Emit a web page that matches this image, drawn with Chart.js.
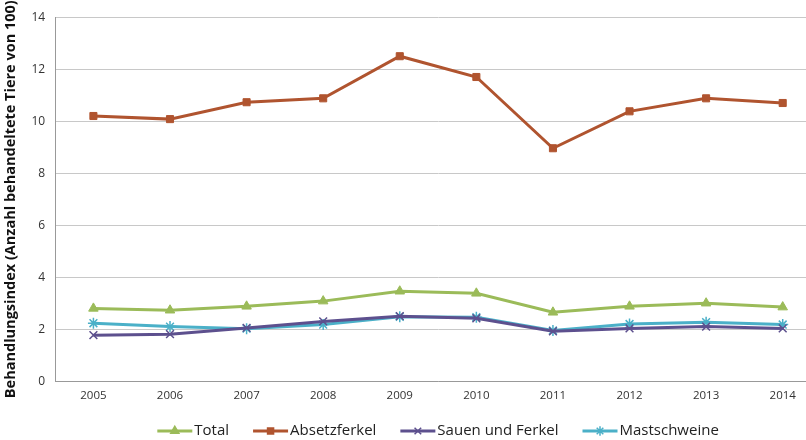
<!DOCTYPE html>
<html><head><meta charset="utf-8">
<script src="https://cdn.jsdelivr.net/npm/chart.js@4/dist/chart.umd.min.js"></script>
<style>html,body{margin:0;padding:0;overflow:hidden;background:#fff}#wrap{width:828px;height:440px}</style>
</head><body><div id="wrap"><canvas id="c" width="828" height="440"></canvas></div>
<script>
const years = ['2005','2006','2007','2008','2009','2010','2011','2012','2013','2014'];
const total = [2.80,2.73,2.88,3.08,3.46,3.38,2.65,2.88,3.00,2.85];
const absetzferkel = [10.20,10.08,10.73,10.88,12.50,11.70,8.96,10.38,10.88,10.70];
const sauenUndFerkel = [1.77,1.81,2.05,2.30,2.50,2.42,1.92,2.03,2.10,2.03];
const mastschweine = [2.23,2.10,2.02,2.18,2.48,2.46,1.95,2.20,2.27,2.18];
const yTicks = [0,2,4,6,8,10,12,14];

const FONT = "'Open Sans', 'Liberation Sans', sans-serif";
function mk(label, data, color, style, r){
  return {label, data, borderColor: color, backgroundColor: color, borderWidth: 3,
    pointStyle: style, pointRadius: r, pointHoverRadius: r, pointBorderWidth: (style==='crossRot'||style==='star')?1.5:1,
    tension: 0, fill: false};
}
const ds = [
  mk('Total', total, '#9bbb59', 'triangle', 5.5),
  mk('Absetzferkel', absetzferkel, '#b0542f', 'rect', 5),
  mk('Sauen und Ferkel', sauenUndFerkel, '#5d508e', 'crossRot', 5.5),
  mk('Mastschweine', mastschweine, '#4bb0c8', 'star', 5.5)
];

const legendPlugin = {
  id: 'customLegend',
  afterDraw(chart){
    const ctx = chart.ctx, ca = chart.chartArea;
    const iconW = 35, gap = 24, y = 431;
    ctx.save();
    ctx.font = "15px " + FONT;
    ctx.textBaseline = 'middle';
    const items = chart.data.datasets.map(d => ({d, tw: ctx.measureText(d.label).width}));
    const totalW = items.reduce((s,it)=>s+iconW+2+it.tw,0) + gap*(items.length-1);
    let x = (ca.left + ca.right)/2 - totalW/2;
    items.forEach(({d, tw}) => {
      ctx.strokeStyle = d.borderColor; ctx.lineWidth = 3;
      ctx.beginPath(); ctx.moveTo(x, y); ctx.lineTo(x+iconW, y); ctx.stroke();
      ctx.fillStyle = d.borderColor; ctx.strokeStyle = d.borderColor; ctx.lineWidth = 1.5;
      Chart.helpers.drawPoint(ctx, {pointStyle: d.pointStyle, radius: d.pointRadius*0.85, borderWidth: 1.5, rotation: 0}, x+iconW/2, y);
      ctx.fillStyle = '#222';
      ctx.fillText(d.label, x+iconW+2, y);
      x += iconW + 2 + tw + gap;
    });
    ctx.restore();
  }
};

new Chart(document.getElementById('c'), {
  type: 'line',
  data: {labels: years, datasets: ds},
  plugins: [legendPlugin],
  options: {
    responsive: false, animation: false,
    layout: {padding: {top: 8, right: 0, left: 2, bottom: 29}},
    plugins: {
      tooltip: {enabled: false},
      legend: {display: false}
    },
    scales: {
      x: {
        offset: true,
        grid: {display: false, drawTicks: false},
        border: {display: true, color: '#999'},
        ticks: {font: {family: FONT, size: 11.5}, color: '#333', padding: 8}
      },
      y: {
        min: 0, max: 14,
        afterBuildTicks(a){ a.ticks = yTicks.map(v=>({value:v})); },
        grid: {color: '#c8c8c8', drawTicks: false},
        border: {display: true, color: '#999'},
        ticks: {font: {family: FONT, size: 12}, color: '#333', padding: 10},
        title: {display: true, text: 'Behandlungsindex (Anzahl behandeltete Tiere von 100)',
          font: {family: FONT, size: 14.5, weight: 'bold'}, color: '#111', padding: {top: 0, bottom: 2}}
      }
    }
  }
});
</script></body></html>
